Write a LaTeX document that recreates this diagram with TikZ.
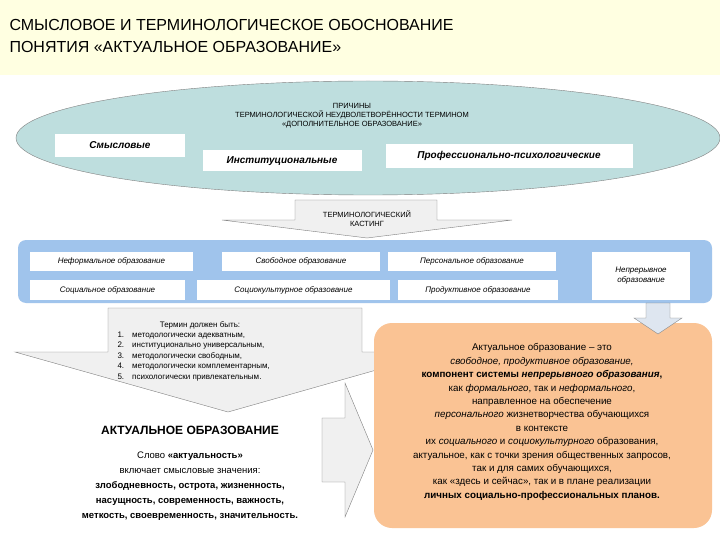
\documentclass[tikz,border=0pt]{standalone}
\usepackage{fontspec}
\setmainfont{Liberation Sans}
\definecolor{ellc}{RGB}{190,222,222}
\definecolor{bandc}{RGB}{160,196,236}
\definecolor{orc}{RGB}{250,195,148}
\definecolor{darr}{RGB}{222,230,240}
\definecolor{titc}{RGB}{255,255,225}
\begin{document}
\begin{tikzpicture}[x=1pt,y=-1pt,
  t/.style={font=\fontsize{7.5}{9}\selectfont,align=center},
  bi/.style={font=\fontsize{10}{12}\selectfont\bfseries\itshape},
  bandt/.style={font=\fontsize{8}{10}\selectfont\itshape}]
\useasboundingbox (0,0) rectangle (720,540);
\fill[white] (0,0) rectangle (720,540);
\fill[titc] (0,0) rectangle (720,75);
\node[anchor=west,font=\fontsize{16}{22}\selectfont,align=left] (title) at (6,36) {СМЫСЛОВОЕ И ТЕРМИНОЛОГИЧЕСКОЕ ОБОСНОВАНИЕ\\ПОНЯТИЯ «АКТУАЛЬНОЕ ОБРАЗОВАНИЕ»};
% ellipse
\draw[gray,fill=ellc] (368,138) ellipse [x radius=352, y radius=57];
\node[t] (why) at (352,116) {ПРИЧИНЫ\\ТЕРМИНОЛОГИЧЕСКОЙ НЕУДВОЛЕТВОРЁННОСТИ ТЕРМИНОМ\\«ДОПОЛНИТЕЛЬНОЕ ОБРАЗОВАНИЕ»};
\fill[white] (55,134) rectangle (185,157); \node[bi] (s) at (120,145) {Смысловые};
\fill[white] (203,150) rectangle (362,171); \node[bi] (i) at (282,161) {Институциональные};
\fill[white] (386,144) rectangle (633,168); \node[bi] (p) at (509,156) {Профессионально-психологические};
% casting arrow
\draw[gray,fill=gray!12] (295,200) -- (437,200) -- (437,220) -- (512,220) -- (367,238) -- (222,220) -- (295,220) -- cycle;
\node[t] (cast) at (367,219) {ТЕРМИНОЛОГИЧЕСКИЙ\\КАСТИНГ};
% band
\fill[rounded corners=8pt,bandc] (18,240) rectangle (712,303);
\foreach \a/\b/\c/\d/\txt in {30/252/193/271/Неформальное образование,222/252/380/271/Свободное образование,388/252/556/271/Персональное образование,30/280/185/300/Социальное образование,197/280/390/300/Социокультурное образование,398/280/558/300/Продуктивное образование}{
  \fill[white] (\a,\b) rectangle (\c,\d);
  \node[bandt] at ({(\a+\c)/2},{(\b+\d)/2}) {\txt};}
\fill[white] (592,252) rectangle (690,300);
\node[bandt,align=center] (np) at (641,276) {Непрерывное\\образование};
% lower gray arrow
\draw[gray,fill=gray!12] (108,308) -- (362,308) -- (362,352) -- (440,352) -- (228,412) -- (15,352) -- (108,352) -- cycle;
\node[font=\fontsize{8}{10.5}\selectfont,anchor=north] (term) at (200,318) {Термин должен быть:};
\node[font=\fontsize{8}{10.5}\selectfont,anchor=north west,align=left] (list) at (114,328) {1.\quad методологически адекватным,\\2.\quad институционально универсальным,\\3.\quad методологически свободным,\\4.\quad методологически комплементарным,\\5.\quad психологически привлекательным.};
\node[font=\fontsize{12}{14}\selectfont\bfseries] (ao) at (190,430) {АКТУАЛЬНОЕ ОБРАЗОВАНИЕ};
\node[font=\fontsize{9.5}{15.2}\selectfont,align=center,anchor=north] (slovo) at (190,448) {Слово \textbf{«актуальность»}\\включает смысловые значения:\\\textbf{злободневность, острота, жизненность,}\\\textbf{насущность, современность, важность,}\\\textbf{меткость, своевременность, значительность.}};
% right arrow
\draw[gray,fill=gray!12] (322,418) -- (345,418) -- (345,383) -- (373,450) -- (345,517) -- (345,482) -- (322,482) -- cycle;
% orange box
\fill[rounded corners=18pt,orc] (374,323) rectangle (712,528);
\node[font=\fontsize{9.8}{13.4}\selectfont,align=center] (def) at (542,422) {Актуальное образование – это\\\textit{свободное, продуктивное образование,}\\\textbf{компонент системы \textit{непрерывного образования},}\\как \textit{формального}, так и \textit{неформального},\\направленное на обеспечение\\\textit{персонального} жизнетворчества обучающихся\\в контексте\\их \textit{социального} и \textit{социокультурного} образования,\\актуальное, как с точки зрения общественных запросов,\\так и для самих обучающихся,\\как «здесь и сейчас», так и в плане реализации\\\textbf{личных социально-профессиональных планов.}};
% down arrow
\draw[gray,fill=darr] (646,303) -- (670,303) -- (670,318) -- (682,318) -- (658,334) -- (634,318) -- (646,318) -- cycle;
\end{tikzpicture}
\end{document}
